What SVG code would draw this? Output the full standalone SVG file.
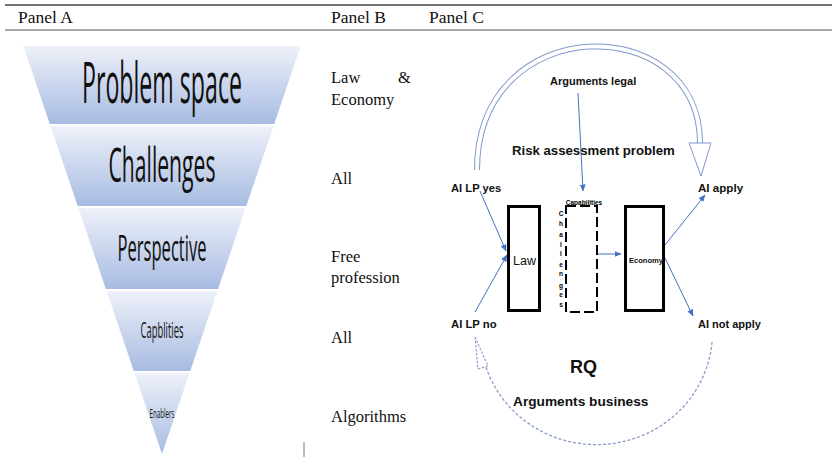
<svg xmlns="http://www.w3.org/2000/svg" width="832" height="460" viewBox="0 0 832 460">
<defs>
<linearGradient id="band" x1="0" y1="0" x2="0" y2="1">
<stop offset="0" stop-color="#eef1f9"/>
<stop offset="1" stop-color="#a7bbe2"/>
</linearGradient>
<marker id="ah" markerWidth="7" markerHeight="6" refX="6.5" refY="3" orient="auto" markerUnits="userSpaceOnUse">
<path d="M0,0 L7,3 L0,6 Z" fill="#4472c4"/>
</marker>
<style>
.hdr{font-family:"Liberation Serif","Times New Roman",serif;font-size:17.5px;fill:#111}
.pb{font-family:"Liberation Serif","Times New Roman",serif;font-size:16.5px;fill:#111}
.fn{font-family:"Open Sans","Liberation Sans",sans-serif;fill:#111;text-anchor:middle}
.lb{font-family:"Liberation Sans",Arial,sans-serif;font-weight:bold;fill:#111}
.conn{stroke:#4472c4;stroke-width:1;fill:none}
.box{fill:none;stroke:#000;stroke-width:3}
.tiny{font-family:"Liberation Sans",Arial,sans-serif;font-weight:bold;font-size:6.5px;fill:#000;text-anchor:middle}
</style>
</defs>
<rect width="832" height="460" fill="#fff"/>

<g id="header">
<line x1="5" y1="5" x2="832" y2="5" stroke="#444" stroke-width="1.5"/>
<line x1="5" y1="30" x2="832" y2="30" stroke="#555" stroke-width="1.2"/>
<text class="hdr" x="18" y="23">Panel A</text>
<text class="hdr" x="331" y="23">Panel B</text>
<text class="hdr" x="429" y="23">Panel C</text>
</g>

<g id="panelA">
<g id="band-problem-space">
<polygon points="23.3,46 300.7,46 274.2,124 49.8,124" fill="url(#band)"/>
<text class="fn" x="162" y="103" font-size="57" textLength="160" lengthAdjust="spacingAndGlyphs">Problem space</text>
</g>
<g id="band-challenges">
<polygon points="50.5,126 273.5,126 246.3,206 77.7,206" fill="url(#band)"/>
<text class="fn" x="162" y="182" font-size="47" textLength="107" lengthAdjust="spacingAndGlyphs">Challenges</text>
</g>
<g id="band-perspective">
<polygon points="78.4,208 245.6,208 218.1,289 105.9,289" fill="url(#band)"/>
<text class="fn" x="162" y="261" font-size="36" textLength="89" lengthAdjust="spacingAndGlyphs">Perspective</text>
</g>
<g id="band-capblities">
<polygon points="106.6,291 217.4,291 190.2,371 133.8,371" fill="url(#band)"/>
<text class="fn" x="162" y="338" font-size="21" textLength="43" lengthAdjust="spacingAndGlyphs">Capblities</text>
</g>
<g id="band-enablers">
<polygon points="134.5,373 189.5,373 162,454" fill="url(#band)"/>
<text class="fn" x="162" y="418" font-size="13.5" textLength="25" lengthAdjust="spacingAndGlyphs">Enablers</text>
</g>
<line x1="304" y1="442" x2="304" y2="457" stroke="#777" stroke-width="1"/>
</g>

<g id="panelB">
<text class="pb" x="331" y="83">Law</text>
<text class="pb" x="398" y="83">&amp;</text>
<text class="pb" x="331" y="105">Economy</text>
<text class="pb" x="331" y="184">All</text>
<text class="pb" x="331" y="262">Free</text>
<text class="pb" x="331" y="283">profession</text>
<text class="pb" x="331" y="343">All</text>
<text class="pb" x="331" y="422">Algorithms</text>
</g>

<g id="connectors">
<path d="M 477 170 C 477 10, 700 10, 700 143" fill="none" stroke="#7f98cc" stroke-width="6"/>
<path d="M 477 170 C 477 10, 700 10, 700 143" fill="none" stroke="#fff" stroke-width="4"/>
<polygon points="689,143 711,143 701,176" fill="#fff" stroke="#7f98cc" stroke-width="1"/>
<path d="M 712 342 A 116 112 0 0 1 486 367" fill="none" stroke="#8a9ccb" stroke-width="1.3" stroke-dasharray="3 2"/>
<polygon points="475,337 478,369 488,366" fill="none" stroke="#8a9ccb" stroke-width="1.1" stroke-dasharray="2.5 1.5"/>
<line class="conn" x1="578" y1="93" x2="583" y2="191" marker-end="url(#ah)"/>
<line class="conn" x1="480" y1="191" x2="506" y2="251" marker-end="url(#ah)"/>
<line class="conn" x1="475" y1="312" x2="507" y2="255" marker-end="url(#ah)"/>
<line class="conn" x1="598" y1="254" x2="621" y2="254" marker-end="url(#ah)"/>
<line class="conn" x1="665" y1="245" x2="705" y2="195" marker-end="url(#ah)"/>
<line class="conn" x1="665" y1="258" x2="693" y2="316" marker-end="url(#ah)"/>
</g>

<g id="labels">
<text class="lb" x="550" y="85" font-size="11">Arguments legal</text>
<text class="lb" x="512" y="155" font-size="13.2">Risk assessment problem</text>
<text class="lb" x="451" y="192" font-size="11.2">AI LP yes</text>
<text class="lb" x="698" y="192" font-size="11.6">AI apply</text>
<text class="lb" x="451" y="328" font-size="11.3">AI LP no</text>
<text class="lb" x="698" y="328" font-size="11">AI not apply</text>
<text class="lb" x="570" y="373" font-size="18">RQ</text>
<text class="lb" x="513" y="406" font-size="13.7">Arguments business</text>
</g>

<g id="node-law">
<rect class="box" x="508.5" y="206.5" width="31" height="104"/>
<text x="524.5" y="265" font-family="Liberation Sans, Arial, sans-serif" font-size="12.5" fill="#111" text-anchor="middle">Law</text>
</g>

<g id="node-challenges">
<rect x="566" y="206" width="31" height="106" fill="none" stroke="#000" stroke-width="2" stroke-dasharray="10 4"/>
<text class="tiny" x="584" y="205" font-size="5.5">Capabilities</text>
<text class="tiny" x="561" y="216">C</text>
<text class="tiny" x="561" y="226">h</text>
<text class="tiny" x="561" y="237">a</text>
<text class="tiny" x="561" y="247">l</text>
<text class="tiny" x="561" y="256">l</text>
<text class="tiny" x="561" y="267">e</text>
<text class="tiny" x="561" y="276">n</text>
<text class="tiny" x="561" y="288">g</text>
<text class="tiny" x="561" y="297">e</text>
<text class="tiny" x="561" y="307">s</text>
</g>

<g id="node-economy">
<rect class="box" x="625.5" y="206.5" width="38" height="104"/>
<text x="646" y="263" font-family="Liberation Sans, Arial, sans-serif" font-weight="bold" font-size="7.6" fill="#111" text-anchor="middle">Economy</text>
</g>
</svg>
